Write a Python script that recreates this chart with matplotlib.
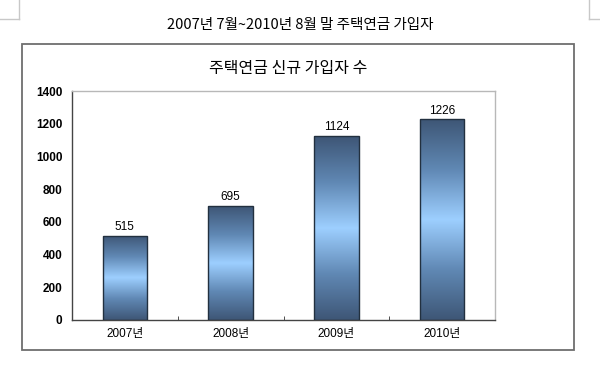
import numpy as np
import matplotlib
matplotlib.use("Agg")
import matplotlib.pyplot as plt
from matplotlib.colors import LinearSegmentedColormap
from matplotlib.lines import Line2D
from matplotlib.patches import Rectangle

plt.rcParams['font.family'] = ['Liberation Sans', 'Noto Sans CJK KR']

# data
years = ['2007년', '2008년', '2009년', '2010년']
subscribers = [515, 695, 1124, 1226]
yticks = [0, 200, 400, 600, 800, 1000, 1200, 1400]
page_title = '2007년 7월~2010년 8월 말 주택연금 가입자'
chart_title = '주택연금 신규 가입자 수'

W, H = 600, 385
fig = plt.figure(figsize=(W / 100, H / 100), dpi=100)

def fx(px):
    return px / W

def fy(py):
    return 1 - py / H

# page corner marks
mark = '#c8c8c8'
fig.add_artist(Line2D([fx(0), fx(19)], [fy(19), fy(19)], color=mark, lw=1))
fig.add_artist(Line2D([fx(19), fx(19)], [fy(0), fy(19)], color=mark, lw=1))
fig.add_artist(Line2D([fx(589), fx(600)], [fy(19), fy(19)], color=mark, lw=1))
fig.add_artist(Line2D([fx(589), fx(589)], [fy(0), fy(19)], color=mark, lw=1))

# outer frame around chart
fig.add_artist(Rectangle((fx(22), fy(350)), fx(574) - fx(22), fy(44) - fy(350),
                         transform=fig.transFigure, fill=False,
                         edgecolor='#6e6e6e', lw=1.3))

fig.text(0.5, fy(25), page_title, ha='center', va='center', fontsize=10.5,
         family=['Noto Sans CJK KR', 'DejaVu Sans'])
fig.text(fx(288), fy(68), chart_title, ha='center', va='center', fontsize=11.5,
         family=['Noto Sans CJK KR', 'DejaVu Sans'])

ax = fig.add_axes([fx(72), fy(320), fx(495) - fx(72), fy(91) - fy(320)])

cmap = LinearSegmentedColormap.from_list(
    'bar', ['#3e5676', '#6088b4', '#9dcfff', '#6088b4', '#3e5676'])
grad = np.linspace(0, 1, 256).reshape(-1, 1)

x = np.arange(len(years))
bw = 0.42
bars = ax.bar(x, subscribers, width=bw, color='none', edgecolor='#22303f',
              linewidth=1.0, zorder=3)
for b in bars:
    x0, y0 = b.get_x(), b.get_y()
    im = ax.imshow(grad, cmap=cmap, aspect='auto', origin='lower',
                   extent=(x0, x0 + b.get_width(), y0, y0 + b.get_height()),
                   zorder=2)
    im.set_clip_path(b)

for xi, v in zip(x, subscribers):
    ax.text(xi, v + 18, str(v), ha='center', va='bottom', fontsize=8.5)

ax.set_xlim(-0.5, len(years) - 0.5)
ax.set_ylim(0, 1400)
ax.set_yticks(yticks)
ax.set_yticklabels([str(t) for t in yticks], fontsize=8.5, fontweight='bold')
ax.set_xticks(x)
ax.set_xticklabels(years, fontsize=8.5)
ax.set_xticks(x[:-1] + 0.5, minor=True)
ax.tick_params(axis='x', which='major', length=0, pad=6)
ax.tick_params(axis='x', which='minor', length=3, direction='in', color='#333333')
ax.tick_params(axis='y', length=0, pad=7)

for s in ['left', 'bottom']:
    ax.spines[s].set_color('#444444')
    ax.spines[s].set_linewidth(1.0)
for s in ['top', 'right']:
    ax.spines[s].set_color('#b8b8b8')
    ax.spines[s].set_linewidth(1.0)

fig.savefig('out.png', dpi=100)
